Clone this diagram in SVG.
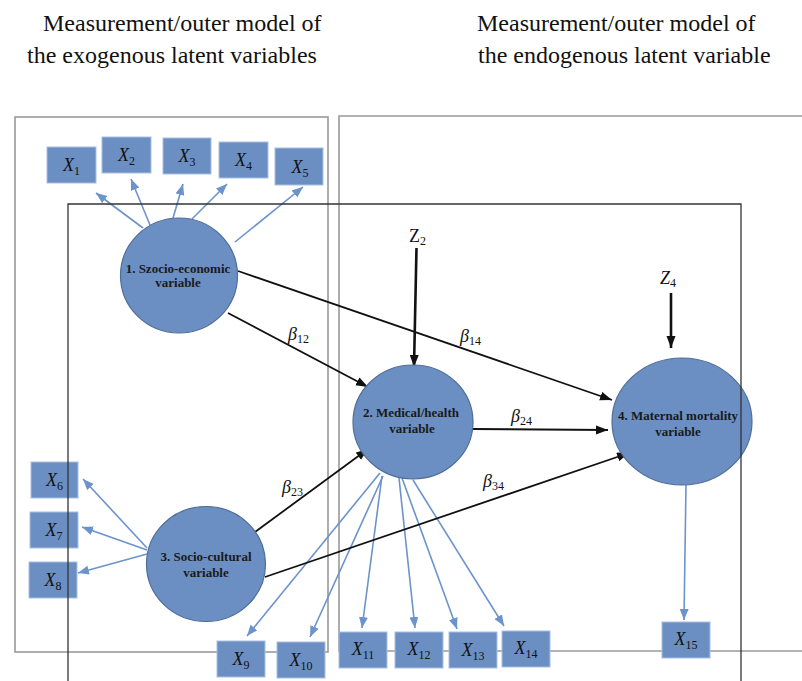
<svg xmlns="http://www.w3.org/2000/svg" width="802" height="681" viewBox="0 0 802 681">
<defs>
<style>
text{font-family:'Liberation Serif','DejaVu Serif',serif}
.title{font-size:24px;fill:#111}
.frameg{fill:none;stroke:#999;stroke-width:1.6}
.frameb{fill:none;stroke:#333;stroke-width:1.3}
.box{fill:#6B8FC2;stroke:#A8C0E2;stroke-width:1}
.lat{fill:#6B8FC2;stroke:#4E6D98;stroke-width:1.2}
.ntxt{font-size:13px;font-weight:bold;fill:#1a1a1a;text-anchor:middle}
.xl{font-size:18px;fill:#111;text-anchor:middle}
.lbl{font-size:18px;fill:#111}
.it{font-style:italic}
.sub{font-size:12px;font-style:normal}
.blue{stroke:#6C93CB;stroke-width:1.6;fill:none;marker-end:url(#ab)}
.blk{stroke:#111;stroke-width:1.8;fill:none;marker-end:url(#ak)}
.blkz{stroke:#111;stroke-width:2.6;fill:none;marker-end:url(#ak)}
</style>
<marker id="ab" markerUnits="userSpaceOnUse" markerWidth="12" markerHeight="10" refX="11" refY="4.5" orient="auto"><path d="M0,0 L11,4.5 L0,9 z" fill="#6C93CB"/></marker>
<marker id="ak" markerUnits="userSpaceOnUse" markerWidth="13" markerHeight="10" refX="12" refY="4.5" orient="auto"><path d="M0,0 L12,4.5 L0,9 z" fill="#111"/></marker>
</defs>
<rect width="802" height="681" fill="#fff"/>
<g id="titles" font-family="Liberation Serif, DejaVu Serif, serif">
<text class="title" x="43" y="31">Measurement/outer model of</text>
<text class="title" x="27" y="63">the exogenous latent variables</text>
<text class="title" x="477" y="31">Measurement/outer model of</text>
<text class="title" x="478" y="63">the endogenous latent variable</text>
</g>
<g id="frames-gray">
<rect class="frameg" x="15" y="117" width="313" height="535"/>
<polyline class="frameg" points="810,116 339,116 339,651 810,651"/>
</g>
<g id="connectors">
<line class="blue" x1="143" y1="228" x2="96" y2="193"/>
<line class="blue" x1="150" y1="225" x2="131" y2="179"/>
<line class="blue" x1="173" y1="218" x2="183" y2="184"/>
<line class="blue" x1="192" y1="219" x2="227" y2="184"/>
<line class="blue" x1="235" y1="242" x2="303" y2="187"/>
<line class="blue" x1="147" y1="548" x2="83" y2="479"/>
<line class="blue" x1="147" y1="550" x2="82" y2="527"/>
<line class="blue" x1="147" y1="554" x2="78" y2="573"/>
<line class="blue" x1="380" y1="473" x2="247" y2="636"/>
<line class="blue" x1="383" y1="476" x2="310" y2="637"/>
<line class="blue" x1="382" y1="476" x2="362" y2="628"/>
<line class="blue" x1="399" y1="478" x2="415" y2="628"/>
<line class="blue" x1="402" y1="478" x2="457" y2="629"/>
<line class="blue" x1="413" y1="480" x2="504" y2="626"/>
<line class="blue" x1="686" y1="485" x2="684" y2="620"/>
<line class="blk" x1="228" y1="313" x2="368" y2="387"/>
<line class="blk" x1="238" y1="271" x2="612" y2="400"/>
<line class="blk" x1="473" y1="429" x2="608" y2="430"/>
<line class="blk" x1="255" y1="532" x2="368" y2="449"/>
<line class="blk" x1="265" y1="577" x2="629" y2="453"/>
<line class="blkz" x1="416.5" y1="248" x2="414" y2="367"/>
<line class="blkz" x1="671" y1="293" x2="671" y2="348"/>
<text class="lbl it" x="288" y="340">β<tspan class="sub" dy="3">12</tspan></text>
<text class="lbl it" x="460" y="342">β<tspan class="sub" dy="3">14</tspan></text>
<text class="lbl it" x="511" y="422">β<tspan class="sub" dy="3">24</tspan></text>
<text class="lbl it" x="282" y="493">β<tspan class="sub" dy="3">23</tspan></text>
<text class="lbl it" x="483" y="487">β<tspan class="sub" dy="3">34</tspan></text>
<text class="lbl" x="409" y="242" font-size="16">Z<tspan class="sub" font-size="11" dy="3">2</tspan></text>
<text class="lbl it" x="660" y="284" font-size="16">Z<tspan class="sub" font-size="11" dy="3">4</tspan></text>
</g>
<g id="node1"><ellipse class="lat" cx="179" cy="275.5" rx="58.5" ry="57.5"/><text class="ntxt" x="178" y="273">1. Szocio-economic</text><text class="ntxt" x="178" y="287">variable</text></g>
<g id="node2"><ellipse class="lat" cx="413" cy="422" rx="60" ry="57"/><text class="ntxt" x="411" y="417">2. Medical/health</text><text class="ntxt" x="412" y="433">variable</text></g>
<g id="node3"><ellipse class="lat" cx="206" cy="564" rx="59.5" ry="57.5"/><text class="ntxt" x="206" y="561">3. Socio-cultural</text><text class="ntxt" x="206" y="577">variable</text></g>
<g id="node4"><ellipse class="lat" cx="682" cy="421.5" rx="70" ry="63.5"/><text class="ntxt" x="678" y="420">4. Maternal mortality</text><text class="ntxt" x="678" y="436">variable</text></g>
<g id="x1"><rect class="box" x="47" y="147" width="49" height="36"/><text class="xl" x="71.5" y="171"><tspan class="it">X</tspan><tspan class="sub" dy="4">1</tspan></text></g>
<g id="x2"><rect class="box" x="102" y="137" width="49" height="36"/><text class="xl" x="126.5" y="161"><tspan class="it">X</tspan><tspan class="sub" dy="4">2</tspan></text></g>
<g id="x3"><rect class="box" x="163" y="138" width="48" height="36"/><text class="xl" x="187" y="162"><tspan class="it">X</tspan><tspan class="sub" dy="4">3</tspan></text></g>
<g id="x4"><rect class="box" x="219" y="142" width="49" height="36"/><text class="xl" x="243.5" y="166"><tspan class="it">X</tspan><tspan class="sub" dy="4">4</tspan></text></g>
<g id="x5"><rect class="box" x="275" y="148" width="48" height="37"/><text class="xl" x="300" y="173"><tspan class="it">X</tspan><tspan class="sub" dy="4">5</tspan></text></g>
<g id="x6"><rect class="box" x="31" y="462" width="47" height="36"/><text class="xl" x="54.5" y="486"><tspan class="it">X</tspan><tspan class="sub" dy="4">6</tspan></text></g>
<g id="x7"><rect class="box" x="30" y="512" width="48" height="36"/><text class="xl" x="54" y="536"><tspan class="it">X</tspan><tspan class="sub" dy="4">7</tspan></text></g>
<g id="x8"><rect class="box" x="29" y="562" width="48" height="36"/><text class="xl" x="53" y="586"><tspan class="it">X</tspan><tspan class="sub" dy="4">8</tspan></text></g>
<g id="x9"><rect class="box" x="217" y="641" width="48" height="36"/><text class="xl" x="241" y="665"><tspan class="it">X</tspan><tspan class="sub" dy="4">9</tspan></text></g>
<g id="x10"><rect class="box" x="277" y="642" width="48" height="36"/><text class="xl" x="301" y="666"><tspan class="it">X</tspan><tspan class="sub" dy="4">10</tspan></text></g>
<g id="x11"><rect class="box" x="339" y="632" width="48" height="36"/><text class="xl" x="363" y="655"><tspan class="it">X</tspan><tspan class="sub" dy="4">11</tspan></text></g>
<g id="x12"><rect class="box" x="395" y="632" width="48" height="36"/><text class="xl" x="419" y="655"><tspan class="it">X</tspan><tspan class="sub" dy="4">12</tspan></text></g>
<g id="x13"><rect class="box" x="449" y="632" width="48" height="36"/><text class="xl" x="473" y="656"><tspan class="it">X</tspan><tspan class="sub" dy="4">13</tspan></text></g>
<g id="x14"><rect class="box" x="502" y="631" width="48" height="36"/><text class="xl" x="526" y="654"><tspan class="it">X</tspan><tspan class="sub" dy="4">14</tspan></text></g>
<g id="x15"><rect class="box" x="662" y="622" width="48" height="36"/><text class="xl" x="686" y="645"><tspan class="it">X</tspan><tspan class="sub" dy="4">15</tspan></text></g>
<g id="frame-black">
<polyline class="frameb" points="68,690 68,204 741,204 741,690"/>
</g>
</svg>
